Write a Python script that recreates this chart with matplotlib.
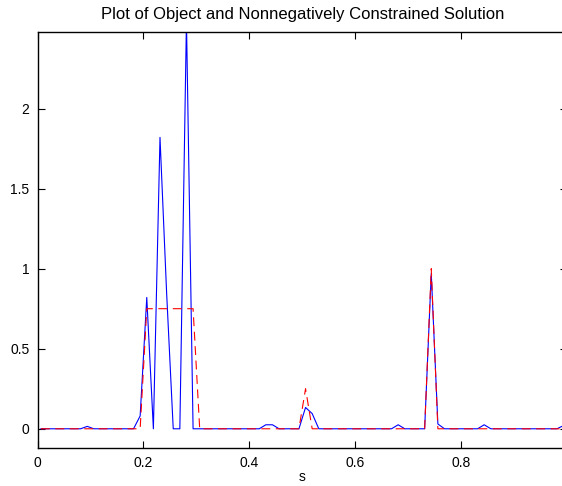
import numpy as np
import matplotlib
matplotlib.use("Agg")
import matplotlib.pyplot as plt
from matplotlib.ticker import FormatStrFormatter

plt.rcParams['font.family'] = ['Liberation Sans', 'DejaVu Sans']
plt.rcParams['font.size'] = 10

# sample points: 80 cell centres on [0, 1]
s = np.linspace(0.00625, 0.99375, 80)

# nonnegatively constrained solution (blue)
solution = [
    0, 0, 0, 0, 0, 0, 0, 0.015, 0, 0,
    0, 0, 0, 0, 0, 0.08, 0.82, 0, 1.82, 0.85,
    0, 0, 2.55, 0, 0, 0, 0, 0, 0, 0,
    0, 0, 0, 0, 0.025, 0.025, 0, 0, 0, 0,
    0.133, 0.095, 0, 0, 0, 0, 0, 0, 0, 0,
    0, 0, 0, 0, 0.025, 0, 0, 0, 0, 0.97,
    0.03, 0, 0, 0, 0, 0, 0, 0.025, 0, 0,
    0, 0, 0, 0, 0, 0, 0, 0, 0, 0.02,
]

# true object (red dashed)
obj = [
    0, 0, 0, 0, 0, 0, 0, 0, 0, 0,
    0, 0, 0, 0, 0, 0, 0.75, 0.75, 0.75, 0.75,
    0.75, 0.75, 0.75, 0.75, 0, 0, 0, 0, 0, 0,
    0, 0, 0, 0, 0, 0, 0, 0, 0, 0,
    0.25, 0, 0, 0, 0, 0, 0, 0, 0, 0,
    0, 0, 0, 0, 0, 0, 0, 0, 0, 1.0,
    0, 0, 0, 0, 0, 0, 0, 0, 0, 0,
    0, 0, 0, 0, 0, 0, 0, 0, 0, 0,
]

xticks = [0, 0.2, 0.4, 0.6, 0.8]
yticks = [0, 0.5, 1, 1.5, 2]

fig = plt.figure(figsize=(5.62, 4.86), dpi=100)
# axes runs past the right edge of the picture, as in the reference
ax = fig.add_axes([0.0669, 0.0782, 0.9418, 0.8566])

ax.plot(s, solution, color=(0, 0, 1), linewidth=0.8)
ax.plot(s, obj, color=(1, 0, 0), linewidth=0.8, linestyle=(0, (8, 5)))

ax.set_xlim(0, 1)
ax.set_ylim(-0.12, 2.48)
ax.set_xticks(xticks)
ax.set_yticks(yticks)
ax.xaxis.set_major_formatter(FormatStrFormatter('%g'))
ax.yaxis.set_major_formatter(FormatStrFormatter('%g'))
ax.tick_params(direction='in', length=5, width=0.8, top=True, right=True, pad=6)
for sp in ax.spines.values():
    sp.set_linewidth(1.0)

ax.set_title('Plot of Object and Nonnegatively Constrained Solution', x=0.5, pad=9)
ax.set_xlabel('s', x=0.5, labelpad=0)

plt.savefig('out.png', dpi=100)
